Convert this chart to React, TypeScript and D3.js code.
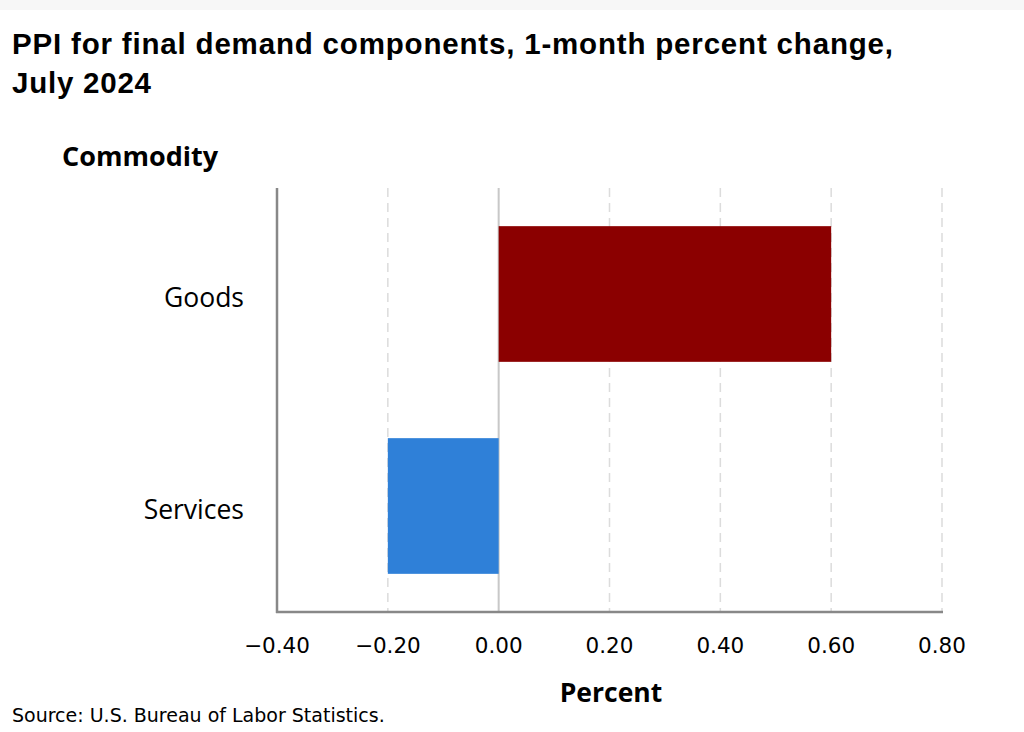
import React from "react";
import * as d3 from "d3";

const categories = ["Goods", "Services"];
const values = [0.6, -0.2];
const tickValues = [-0.4, -0.2, 0, 0.2, 0.4, 0.6, 0.8];
const colors = ["#8b0000", "#2f80d8"];

export default function App() {
  const W = 1024, H = 732;
  const left = 277, right = 942, top = 188, bottom = 612;
  const x = d3.scaleLinear().domain([-0.4, 0.8]).range([left, right]);
  const y = d3.scaleBand<string>().domain(categories).range([top, bottom]).paddingInner(0.36).paddingOuter(0.18);
  const fmt = (v: number) => (v < 0 ? "\u2212" : "") + d3.format(".2f")(Math.abs(v));
  const font = "'Open Sans', sans-serif";
  const font2 = "'DejaVu Sans', Verdana, sans-serif";
  const titleFont = "'Liberation Sans', Arial, sans-serif";
  return (
    <svg width={W} height={H} style={{ position: "absolute", left: 0, top: 0, background: "#fff" }}>
      <rect x={0} y={0} width={W} height={10} fill="#f7f7f7" />
      <text x={12} y={54} fontFamily={titleFont} fontWeight="bold" fontSize={29.5} fill="#000" textLength={881} lengthAdjust="spacing">
        PPI for final demand components, 1-month percent change,
      </text>
      <text x={12} y={93} fontFamily={titleFont} fontWeight="bold" fontSize={29.5} fill="#000" textLength={139} lengthAdjust="spacing">
        July 2024
      </text>
      <text x={62} y={166} fontFamily={font} fontWeight="bold" fontSize={27} fill="#000">Commodity</text>
      {tickValues.map((t) =>
        t === 0 ? null : (
          <line key={"g" + t} x1={x(t)} x2={x(t)} y1={top} y2={bottom} stroke="#dcdcdc" strokeWidth={1.5} strokeDasharray="9,6" />
        )
      )}
      <line x1={x(0)} x2={x(0)} y1={top} y2={bottom} stroke="#c8c8c8" strokeWidth={2} />
      {categories.map((c, i) => (
        <rect
          key={c}
          x={x(Math.min(0, values[i]))}
          y={y(c)!}
          width={Math.abs(x(values[i]) - x(0))}
          height={y.bandwidth()}
          fill={colors[i]}
        />
      ))}
      {categories.map((c) => (
        <text key={"l" + c} x={244} y={y(c)! + y.bandwidth() / 2 + 4} dy="0.35em" textAnchor="end" fontFamily={font} fontSize={26.5} fill="#000">
          {c}
        </text>
      ))}
      <line x1={left} x2={left} y1={top} y2={bottom + 1} stroke="#888" strokeWidth={2.5} />
      <line x1={left - 1} x2={right + 1} y1={bottom} y2={bottom} stroke="#888" strokeWidth={2.5} />
      {tickValues.map((t) => (
        <text key={"t" + t} x={x(t)} y={653} textAnchor="middle" fontFamily={font2} fontSize={21.5} fill="#000">
          {fmt(t)}
        </text>
      ))}
      <text x={611} y={702} textAnchor="middle" fontFamily={font} fontWeight="bold" fontSize={26.5} fill="#000">Percent</text>
      <text x={12} y={722} fontFamily={font2} fontSize={19} fill="#000">Source: U.S. Bureau of Labor Statistics.</text>
    </svg>
  );
}
